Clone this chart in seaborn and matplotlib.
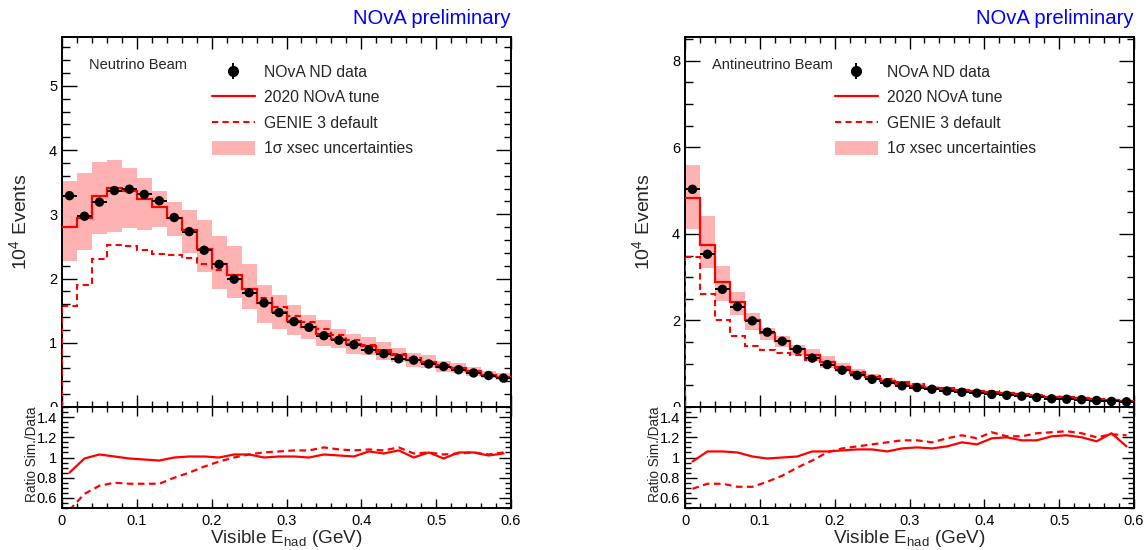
import numpy as np
import matplotlib
matplotlib.use("Agg")
import matplotlib.pyplot as plt
import seaborn as sns
from matplotlib.ticker import MultipleLocator, FuncFormatter
from matplotlib.lines import Line2D
from matplotlib.patches import Patch
from matplotlib.transforms import Bbox, TransformedBbox

# ---------------------------------------------------------------------------
# Binning: visible hadronic energy, 30 bins of 20 MeV between 0 and 0.6 GeV
bin_edges = np.linspace(0.0, 0.6, 31)

# Neutrino beam (units of 10^4 events)
nu_data = [3.29, 2.97, 3.19, 3.37, 3.39, 3.31, 3.21, 2.95, 2.73, 2.44,
           2.22, 1.99, 1.78, 1.62, 1.47, 1.33, 1.24, 1.11, 1.04, 0.97,
           0.89, 0.83, 0.75, 0.73, 0.67, 0.63, 0.58, 0.53, 0.49, 0.45]
nu_ratio_tune = [0.85, 0.99, 1.03, 1.01, 0.99, 0.98, 0.97, 1.00, 1.01, 1.01,
                 1.00, 1.03, 1.03, 1.00, 1.01, 1.01, 1.00, 1.03, 1.02, 1.01,
                 1.06, 1.04, 1.07, 1.00, 1.05, 0.99, 1.05, 1.05, 1.02, 1.04]
nu_ratio_genie = [0.48, 0.64, 0.72, 0.75, 0.74, 0.74, 0.74, 0.80, 0.85, 0.91,
                  0.96, 1.00, 1.03, 1.05, 1.06, 1.07, 1.07, 1.10, 1.08, 1.07,
                  1.08, 1.07, 1.10, 1.04, 1.05, 1.03, 1.04, 1.05, 1.03, 1.05]
nu_unc_up = [1.26, 1.24, 1.16, 1.13, 1.11, 1.10, 1.08, 1.08, 1.11, 1.18,
             1.20, 1.22, 1.21, 1.17, 1.17, 1.18, 1.15, 1.18, 1.14, 1.16,
             1.15, 1.17, 1.14, 1.15, 1.14, 1.15, 1.13, 1.13, 1.12, 1.12]
nu_unc_dn = [0.81, 0.83, 0.82, 0.80, 0.83, 0.85, 0.90, 0.90, 0.87, 0.85,
             0.83, 0.83, 0.83, 0.81, 0.82, 0.84, 0.85, 0.83, 0.86, 0.85,
             0.86, 0.85, 0.87, 0.86, 0.87, 0.87, 0.88, 0.88, 0.89, 0.89]

# Antineutrino beam (units of 10^4 events)
anu_data = [5.03, 3.53, 2.72, 2.32, 1.99, 1.73, 1.52, 1.33, 1.13, 0.98,
            0.85, 0.73, 0.64, 0.56, 0.49, 0.45, 0.41, 0.37, 0.34, 0.32,
            0.29, 0.27, 0.25, 0.22, 0.19, 0.18, 0.17, 0.15, 0.13, 0.12]
anu_ratio_tune = [0.96, 1.06, 1.06, 1.05, 1.01, 0.99, 1.00, 1.01, 1.06, 1.06,
                  1.07, 1.08, 1.08, 1.06, 1.09, 1.10, 1.09, 1.11, 1.15, 1.13,
                  1.19, 1.20, 1.17, 1.17, 1.21, 1.22, 1.20, 1.16, 1.24, 1.11]
anu_ratio_genie = [0.69, 0.74, 0.74, 0.71, 0.71, 0.76, 0.82, 0.90, 0.97, 1.05,
                   1.09, 1.11, 1.13, 1.15, 1.17, 1.17, 1.15, 1.19, 1.22, 1.19,
                   1.25, 1.21, 1.21, 1.24, 1.25, 1.26, 1.24, 1.20, 1.23, 1.22]
anu_unc_up = [1.16, 1.18, 1.13, 1.09, 1.08, 1.07, 1.08, 1.07, 1.11, 1.14,
              1.12, 1.12, 1.11, 1.11, 1.10, 1.10, 1.10, 1.10, 1.09, 1.09,
              1.09, 1.09, 1.09, 1.08, 1.08, 1.08, 1.08, 1.08, 1.08, 1.08]
anu_unc_dn = [0.85, 0.86, 0.85, 0.87, 0.89, 0.91, 0.91, 0.90, 0.88, 0.87,
              0.89, 0.89, 0.90, 0.90, 0.90, 0.91, 0.91, 0.91, 0.91, 0.92,
              0.92, 0.92, 0.92, 0.92, 0.92, 0.93, 0.93, 0.93, 0.93, 0.93]

legend_labels = ["NOvA ND data", "2020 NOvA tune", "GENIE 3 default",
                 "1σ xsec uncertainties"]
beam_labels = ["Neutrino Beam", "Antineutrino Beam"]
banner = "NOvA preliminary"

# ---------------------------------------------------------------------------
sns.set_style("ticks")
plt.rcParams["font.family"] = ["Liberation Sans", "DejaVu Sans"]
plt.rcParams["mathtext.fontset"] = "custom"
plt.rcParams["mathtext.rm"] = "Liberation Sans"
plt.rcParams["mathtext.it"] = "Liberation Sans:italic"
plt.rcParams["mathtext.bf"] = "Liberation Sans:bold"
plt.rcParams["mathtext.sf"] = "Liberation Sans"

RED = "#ff0000"
BAND = "#ffb2b2"
DASH = (0, (3, 2))

W, H = 1146, 550
fig = plt.figure(figsize=(W / 100, H / 100), dpi=100)

main_bottom, main_top = 407, 37
ratio_bottom = 508
panel_x = [62, 685]
panel_w = 449

fmt_g = FuncFormatter(lambda v, p: f"{v:g}")


def fig_rect(x0, ytop, w, ybot):
    return [x0 / W, (H - ybot) / H, w / W, (ybot - ytop) / H]


def style_axes(ax, xmaj, xmin, ymaj, ymin):
    for s in ax.spines.values():
        s.set_linewidth(1.4)
        s.set_color("black")
    ax.tick_params(which="both", direction="in", top=True, right=True,
                   width=1.0, colors="black", labelsize=10.5)
    ax.tick_params(axis="x", which="major", length=xmaj)
    ax.tick_params(axis="x", which="minor", length=xmin)
    ax.tick_params(axis="y", which="major", length=ymaj, pad=3.5)
    ax.tick_params(axis="y", which="minor", length=ymin)
    ax.set_xlim(0, 0.6)
    ax.xaxis.set_major_locator(MultipleLocator(0.1))
    ax.xaxis.set_minor_locator(MultipleLocator(0.02))
    ax.xaxis.set_major_formatter(fmt_g)
    ax.yaxis.set_major_formatter(fmt_g)


def draw_panel(i, data, r_tune, r_genie, u_up, u_dn, ymax, ymajor, yminor):
    x0 = panel_x[i]
    ax = fig.add_axes(fig_rect(x0, main_top, panel_w, main_bottom))
    axr = fig.add_axes(fig_rect(x0, main_bottom, panel_w, ratio_bottom))

    data = np.asarray(data)
    r_tune = np.asarray(r_tune)
    r_genie = np.asarray(r_genie)
    centers = 0.5 * (bin_edges[:-1] + bin_edges[1:])
    tune = data * r_tune
    genie = data * r_genie

    # uncertainty band around the tuned prediction
    ax.stairs(tune * np.asarray(u_up), bin_edges,
              baseline=tune * np.asarray(u_dn), fill=True,
              color=BAND, lw=0, zorder=1)
    # predictions (only the default GENIE outline rises from zero at 0 GeV)
    ax.stairs(genie, bin_edges, baseline=None, color=RED, lw=1.5,
              linestyle=DASH, zorder=2)
    ax.vlines(bin_edges[0], 0, genie[0], color=RED, lw=1.5,
              linestyle=DASH, zorder=2.6)
    ax.stairs(tune, bin_edges, baseline=None, color=RED, lw=1.6, zorder=3)
    # data: bin-width bars and markers
    ax.errorbar(centers, data, xerr=0.01, fmt="none", ecolor="black",
                elinewidth=1.4, zorder=4)
    sns.scatterplot(x=centers, y=data, ax=ax, color="black", s=46,
                    edgecolor="none", zorder=5, legend=False)

    ax.set_ylim(0, ymax)
    style_axes(ax, 8.6, 4.3, 10.8, 5.4)
    ax.yaxis.set_major_locator(MultipleLocator(ymajor))
    ax.yaxis.set_minor_locator(MultipleLocator(yminor))
    ax.tick_params(axis="x", labelbottom=False)
    ax.set_xlabel("")
    ax.set_ylabel(r"10$^{4}$ Events", fontsize=14)
    ax.yaxis.set_label_coords(-0.07, 0.5)

    # zero label sits on the pad boundary and is cut by the ratio pad
    clip = TransformedBbox(Bbox.from_extents(0, (H - main_bottom) / H, 1, 1),
                           fig.transFigure)
    for t in ax.yaxis.get_major_ticks():
        t.label1.set_clip_on(True)
        t.label1.set_clip_box(clip)

    ax.text(0.06, 0.914, beam_labels[i], transform=ax.transAxes,
            fontsize=10.5, ha="left", va="baseline")
    ax.text(1.0, 1.035, banner, transform=ax.transAxes, fontsize=14.6,
            color="#0000ff", ha="right", va="baseline")

    # legend
    h_data = ax.errorbar([np.nan], [np.nan], yerr=[np.nan], fmt="o",
                         color="black", ms=7, elinewidth=1.4)
    h_tune = Line2D([], [], color=RED, lw=1.6)
    h_genie = Line2D([], [], color=RED, lw=1.5, linestyle=DASH)
    h_band = Patch(facecolor=BAND, edgecolor="none")
    ax.legend([h_data, h_tune, h_genie, h_band], legend_labels,
              loc="upper left", bbox_to_anchor=(0.334, 0.925),
              frameon=False, fontsize=11.3, handlelength=2.74,
              handleheight=0.95, handletextpad=0.57, labelspacing=0.66,
              borderpad=0, borderaxespad=0)

    # ratio pad
    sns.lineplot(x=centers, y=r_tune, ax=axr, color=RED, lw=1.6,
                 estimator=None, sort=False, legend=False)
    sns.lineplot(x=centers, y=r_genie, ax=axr, color=RED, lw=1.6,
                 estimator=None, sort=False, legend=False, linestyle=DASH)
    axr.set_ylim(0.5, 1.5)
    style_axes(axr, 6.5, 3.6, 8.6, 4.3)
    axr.yaxis.set_major_locator(MultipleLocator(0.2))
    axr.yaxis.set_minor_locator(MultipleLocator(0.05))
    axr.tick_params(axis="x", which="major", pad=4)
    axr.set_ylabel("Ratio Sim./Data", fontsize=9.8)
    axr.yaxis.set_label_coords(-0.052, 0.53)
    axr.set_xlabel(r"Visible E$_{\mathrm{had}}$ (GeV)", fontsize=13.6)
    axr.xaxis.set_label_coords(0.5, -0.2)
    return ax, axr


draw_panel(0, nu_data, nu_ratio_tune, nu_ratio_genie, nu_unc_up, nu_unc_dn,
           5.76, 1, 0.2)
draw_panel(1, anu_data, anu_ratio_tune, anu_ratio_genie, anu_unc_up,
           anu_unc_dn, 8.55, 2, 0.5)

fig.savefig("out.png", dpi=100, facecolor="white")
